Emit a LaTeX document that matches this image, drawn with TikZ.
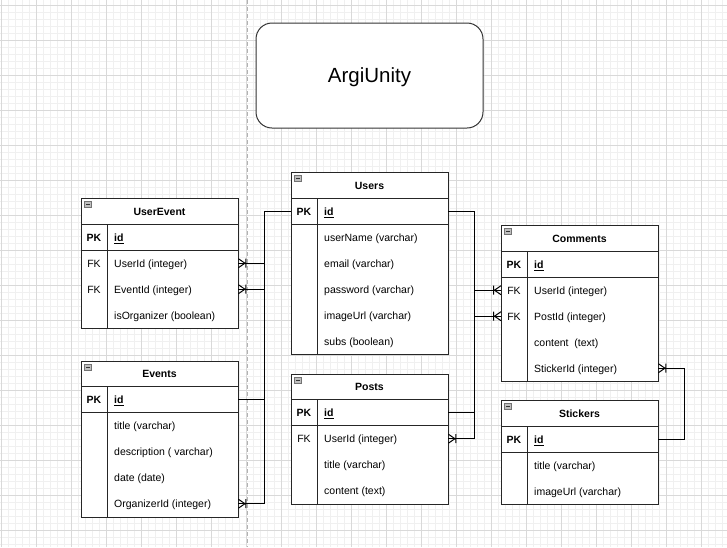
\documentclass[tikz,border=0pt]{standalone}
\usepackage{fontspec}
\setmainfont{Liberation Sans}

\pgfdeclarearrow{
  name=CrowMany,
  setup code={
    \pgfarrowssettipend{0pt}
    \pgfarrowssetlineend{0pt}
    \pgfarrowssetbackend{-8pt}
    \pgfarrowssetvisualbackend{-8pt}
    \pgfarrowshullpoint{0pt}{5pt}
    \pgfarrowshullpoint{0pt}{-5pt}
    \pgfarrowshullpoint{-8pt}{5pt}
    \pgfarrowshullpoint{-8pt}{-5pt}
  },
  drawing code={
    \pgfsetdash{}{0pt}
    \pgfsetroundjoin
    \pgfpathmoveto{\pgfqpoint{0pt}{4.5pt}}
    \pgfpathlineto{\pgfqpoint{-6.5pt}{0pt}}
    \pgfpathlineto{\pgfqpoint{0pt}{-4.5pt}}
    \pgfpathmoveto{\pgfqpoint{-7.5pt}{4.5pt}}
    \pgfpathlineto{\pgfqpoint{-7.5pt}{-4.5pt}}
    \pgfusepathqstroke
  },
}

\tikzset{
  minorgrid/.style={draw=black!6, line width=1pt},
  majorgrid/.style={draw=black!15, line width=1pt},
  sep/.style={draw=black!30, line width=1pt, dash pattern=on 4pt off 3pt},
  tbox/.style={draw=black!85, fill=white, line width=1pt, minimum width=157pt, inner sep=0pt},
  rowbox/.style={draw=none, minimum width=157pt, minimum height=26pt, inner sep=0pt},
  tline/.style={draw=black!85, line width=1pt},
  htxt/.style={font=\fontsize{10.5}{12}\selectfont\bfseries, inner sep=0pt, anchor=base},
  ktxt/.style={font=\fontsize{10.5}{12}\selectfont, inner sep=0pt, anchor=base},
  ftxt/.style={font=\fontsize{10.5}{12}\selectfont, inner sep=0pt, anchor=base west},
  icon/.style={draw=black!55, fill=black!25, line width=0.6pt},
  titlebox/.style={draw=black!80, fill=white, line width=1pt, rounded corners=16pt,
    minimum width=227pt, minimum height=105pt, text height=14.7pt, text depth=0pt,
    font=\fontsize{20.5}{24}\selectfont},
  conn/.style={draw=black, line width=1pt, -CrowMany},
}

% #1 name, #2 left x, #3 top y, #4 title, #5 rows incl. PK, #6 list key/text of non-PK rows
\newcommand\ertable[6]{%
  \pgfmathsetmacro\tblH{26*(#5+1)}%
  \pgfmathsetmacro\xr{#2+157}%
  \pgfmathsetmacro\xd{#2+26}%
  \pgfmathsetmacro\xk{#2+13}%
  \pgfmathsetmacro\xt{#2+33}%
  \pgfmathsetmacro\xc{#2+78.5}%
  \pgfmathsetmacro\yh{#3+13+4.3}%
  \pgfmathsetmacro\yhb{#3+26}%
  \pgfmathsetmacro\ypk{#3+39+4.3}%
  \pgfmathsetmacro\ypkb{#3+52}%
  \pgfmathsetmacro\ybot{#3+\tblH}%
  \node[tbox, minimum height=\tblH pt, anchor=north west] (#1) at (#2,#3) {};
  \node[htxt] (#1-title) at (\xc,\yh) {#4};
  \draw[icon] (#2+3.5,#3+3.5) rectangle (#2+10.5,#3+9.5);
  \draw[black!80, line width=0.8pt] (#2+5,#3+6.5) -- (#2+9,#3+6.5);
  \node[rowbox, anchor=north west] (#1-id) at (#2,\yhb) {};
  \node[htxt] (#1-id-k) at (\xk,\ypk) {PK};
  \node[ftxt] (#1-id-f) at (\xt,\ypk) {\textbf{\underline{id}}};
  \draw[tline] (#2,\yhb) -- (\xr,\yhb);
  \draw[tline] (#2,\ypkb) -- (\xr,\ypkb);
  \draw[tline] (\xd,\yhb) -- (\xd,\ybot);
  \foreach \kk/\tt [count=\i] in {#6} {
    \pgfmathsetmacro\yy{#3+26+26*\i}
    \pgfmathsetmacro\yc{#3+39+26*\i+4.3}
    \node[rowbox, anchor=north west] (#1-\i) at (#2,\yy) {};
    \node[ktxt] (#1-\i-k) at (\xk,\yc) {\kk};
    \node[ftxt] (#1-\i-f) at (\xt,\yc) {\tt};
  }
}

\begin{document}
\begin{tikzpicture}[x=1pt, y=-1pt]
  \useasboundingbox (0,0) rectangle (727,547);
  \fill[white] (0,0) rectangle (727,547);
  % grid
  \foreach \x in {1,8,...,727} \draw[minorgrid] (\x,0) -- (\x,547);
  \foreach \y in {5,12,...,547} \draw[minorgrid] (0,\y) -- (727,\y);
  \foreach \x in {1,36,...,727} \draw[majorgrid] (\x,0) -- (\x,547);
  \foreach \y in {5,40,...,547} \draw[majorgrid] (0,\y) -- (727,\y);
  \draw[sep] (247,0) -- (247,547);

  % title
  \node[titlebox] (title) at (369.5,75.5) {ArgiUnity};

  % tables
  \ertable{userevent}{81}{198}{UserEvent}{4}{FK/UserId (integer), FK/EventId (integer), /isOrganizer (boolean)}
  \ertable{events}{81}{360.5}{Events}{5}{/title (varchar), /description ( varchar), /date (date), /OrganizerId (integer)}
  \ertable{users}{291}{172}{Users}{6}{/userName (varchar), /email (varchar), /password (varchar), /imageUrl (varchar), /subs (boolean)}
  \ertable{posts}{291}{373.5}{Posts}{4}{FK/UserId (integer), /title (varchar), /content (text)}
  \ertable{comments}{501}{225}{Comments}{5}{FK/UserId (integer), FK/PostId (integer), /content\ \ (text), /StickerId (integer)}
  \ertable{stickers}{501}{400}{Stickers}{3}{/title (varchar), /imageUrl (varchar)}

  % bus coordinates
  \coordinate (busL) at (264.5,0);
  \coordinate (busR) at (474.5,0);
  \coordinate (busS) at (684.5,0);

  % connectors
  \draw[conn] (users-id.west) -| (busL |- userevent-1.east) -- (userevent-1.east);
  \draw[conn] (events-id.east) -| (busL |- userevent-2.east) -- (userevent-2.east);
  \draw[conn] (users-id.west) -| (busL |- events-4.east) -- (events-4.east);
  \draw[conn] (users-id.east) -| (busR |- comments-1.west) -- (comments-1.west);
  \draw[conn] (posts-id.east) -| (busR |- comments-2.west) -- (comments-2.west);
  \draw[conn] (users-id.east) -| (busR |- posts-1.east) -- (posts-1.east);
  \draw[conn] (stickers-id.east) -| (busS |- comments-4.east) -- (comments-4.east);
\end{tikzpicture}
\end{document}
